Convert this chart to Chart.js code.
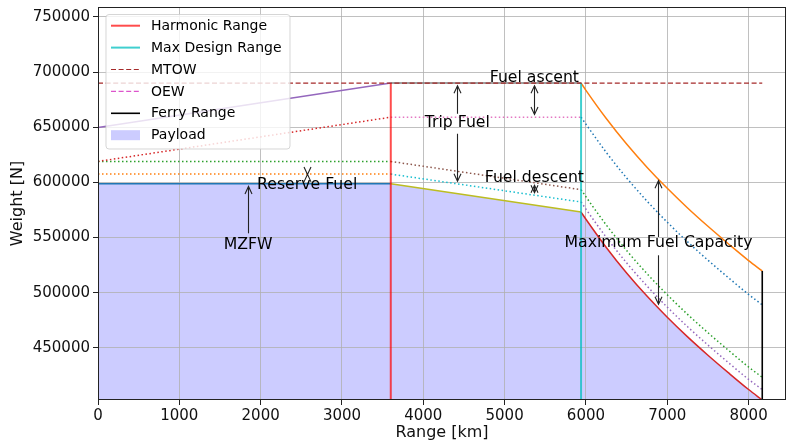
<!DOCTYPE html>
<html><head><meta charset="utf-8">
<script src="https://cdn.jsdelivr.net/npm/chart.js@4.4.0/dist/chart.umd.min.js"></script>
<style>html,body{margin:0;padding:0;background:#fff;}canvas{display:block;}</style>
</head><body>
<canvas id="c" width="787" height="443"></canvas>
<script>
// ---------- data ----------
const MTOW = 690000;
const OEW = 402700;
const Y_MAX = 759000;
const X_MAX = 8460;
const harmonicRange = 3600;
const designRange = 5940;
const ferryRange = 8168;
const ferryTOW = 519700;

const xTicks = [0, 1000, 2000, 3000, 4000, 5000, 6000, 7000, 8000];
const yTicks = [450000, 500000, 550000, 600000, 650000, 700000, 750000];

// segment A : 0 -> harmonic range
const segA_x    = [0, 3600];
const zfwA      = [598800, 598800];
const reserveA  = [607500, 607500];
const descentA  = [619000, 619000];
const tripA     = [619000, 659100];
const towA      = [649800, 690000];

// segment B : harmonic -> max design range
const segB_x    = [3600, 5940];
const descentB  = [619000, 593400];
const tripB     = [659100, 659100];
const towB      = [690000, 690000];
const zfwB      = [598800, 573100];
const reserveB  = [607500, 582200];

// segment C : max design -> ferry range
const segC_x    = [5940, 6000, 6250, 6500, 6750, 7000, 7250, 7500, 7750, 8000, 8168];
const tripC     = [659100, 652750, 627200, 604050, 583100, 563900, 546100, 529500, 513700, 498400, 489000];
const towC      = [690000, 683450, 657900, 634750, 613800, 594600, 576800, 560200, 544400, 529100, 519700];
const descentC  = [593500, 586950, 561400, 538250, 517300, 498100, 480300, 463700, 447900, 432600, 423300];
const zfwC      = [573100, 566550, 541000, 517850, 496900, 477700, 459900, 443300, 427500, 412200, 402700];
const reserveC  = [582300, 575750, 550200, 527050, 506100, 486900, 469100, 452500, 436700, 421400, 412200];

// annotations (data coordinates)
const notes = [
  {text: 'Fuel ascent', x: 5366, y: 695050},
  {text: 'Trip Fuel', x: 4418, y: 654300},
  {text: 'Fuel descent', x: 5366, y: 603600},
  {text: 'Reserve Fuel', x: 2572, y: 597300},
  {text: 'MZFW', x: 1846, y: 543200},
  {text: 'Maximum Fuel Capacity', x: 6892, y: 545000}
];
const arrows = [
  {x: 5362, from: 690000, to: 659100, both: true},
  {x: 4418, from: 662200, to: 690000},
  {x: 4418, from: 644100, to: 598650},
  {x: 5362, from: 599900, to: 588200, both: true},
  {x: 2569, from: 609700, to: 604700, both: true},
  {x: 1846, from: 553800, to: 598800},
  {x: 6892, from: 550500, to: 604000},
  {x: 6892, from: 533900, to: 487000}
];

const legendOrder = ['Harmonic Range', 'Max Design Range', 'MTOW', 'OEW', 'Ferry Range', 'Payload'];

// ---------- build ----------
const pts = (xs, ys) => xs.map((x, i) => ({x: x, y: ys[i]}));
const C = ['#1f77b4','#ff7f0e','#2ca02c','#d62728','#9467bd','#8c564b','#e377c2','#7f7f7f','#bcbd22','#17becf'];
const DOT = [1.5, 2.5];
const DASH = [5, 2.6];
function line(data, color, dash, width, label, smooth) {
  const d = {label: label || '', data: data, borderColor: color, backgroundColor: color,
    borderDash: dash || [], borderWidth: width || 1.5, pointRadius: 0, pointHoverRadius: 0,
    showLine: true, fill: false, tension: 0, borderCapStyle: 'butt'};
  if (smooth) d.cubicInterpolationMode = 'monotone';
  return d;
}
const payloadPts = pts(segA_x, zfwA).concat(pts(segB_x, zfwB).slice(1), pts(segC_x, zfwC).slice(1));

const datasets = [
  {label: 'Payload', data: payloadPts, showLine: true, fill: 'start', backgroundColor: 'rgba(0,0,255,0.2)',
   borderColor: 'rgba(0,0,255,0.2)', borderWidth: 0, pointRadius: 0, tension: 0},
  line(pts(segA_x, zfwA), C[0]),
  line(pts(segA_x, reserveA), C[1], DOT),
  line(pts(segA_x, descentA), C[2], DOT),
  line(pts(segA_x, tripA), C[3], DOT),
  line(pts(segA_x, towA), C[4]),
  line(pts(segB_x, descentB), C[5], DOT),
  line(pts(segB_x, tripB), C[6], DOT),
  line(pts(segB_x, towB), C[7]),
  line(pts(segB_x, zfwB), C[8]),
  line(pts(segB_x, reserveB), C[9], DOT),
  line(pts(segC_x, tripC), C[0], DOT, 1.5, '', true),
  line(pts(segC_x, towC), C[1], null, 1.5, '', true),
  line(pts(segC_x, descentC), C[2], DOT, 1.5, '', true),
  line(pts(segC_x, zfwC), C[3], null, 1.5, '', true),
  line(pts(segC_x, reserveC), C[4], DOT, 1.5, '', true),
  line(pts([harmonicRange, harmonicRange], [OEW, MTOW]), 'rgba(255,0,0,0.7)', null, 2, 'Harmonic Range'),
  line(pts([designRange, designRange], [OEW, MTOW]), 'rgba(0,191,191,0.75)', null, 2, 'Max Design Range'),
  line(pts([0, ferryRange], [MTOW, MTOW]), '#a52a2a', DASH, 1.2, 'MTOW'),
  line(pts([0, ferryRange], [OEW, OEW]), '#dd55cc', DASH, 1.2, 'OEW'),
  line(pts([ferryRange, ferryRange], [OEW, ferryTOW]), '#000000', null, 1.6, 'Ferry Range')
];
// first in list drawn at bottom
datasets.forEach((d, i) => { d.order = datasets.length - i; });

const FONT = '"DejaVu Sans", sans-serif';
Chart.defaults.font.family = FONT;
Chart.defaults.color = '#111';

const HL = 7.5, HW = 3.5, SHRINK = 2.7;
function head(ctx, x, y, dir) {
  ctx.beginPath();
  ctx.moveTo(x - HW, y - dir * HL);
  ctx.lineTo(x, y);
  ctx.lineTo(x + HW, y - dir * HL);
  ctx.stroke();
}

const annot = {
  id: 'annot',
  afterDatasetsDraw(chart) {
    const ctx = chart.ctx, xs = chart.scales.x, ys = chart.scales.y;
    ctx.save();
    ctx.strokeStyle = '#222'; ctx.lineWidth = 1.1; ctx.lineJoin = 'miter';
    arrows.forEach(a => {
      const px = Math.round(xs.getPixelForValue(a.x)) + 0.5;
      let p1 = ys.getPixelForValue(a.from), p2 = ys.getPixelForValue(a.to);
      const dir = Math.sign(p2 - p1);
      p2 -= dir * SHRINK;
      if (a.both) p1 += dir * SHRINK;
      ctx.beginPath(); ctx.moveTo(px, p1); ctx.lineTo(px, p2); ctx.stroke();
      head(ctx, px, p2, dir);
      if (a.both) head(ctx, px, p1, -dir);
    });
    ctx.fillStyle = '#000';
    ctx.font = '15.7px ' + FONT;
    ctx.textAlign = 'center'; ctx.textBaseline = 'middle';
    notes.forEach(n => {
      ctx.fillText(n.text, xs.getPixelForValue(n.x), ys.getPixelForValue(n.y));
    });
    ctx.restore();
  },
  afterDraw(chart) {
    const ctx = chart.ctx, ca = chart.chartArea;
    // legend
    ctx.save();
    const bx = 106, by = 14.5, bw = 184, bh = 134.5, r = 3;
    ctx.beginPath();
    ctx.moveTo(bx + r, by); ctx.lineTo(bx + bw - r, by); ctx.quadraticCurveTo(bx + bw, by, bx + bw, by + r);
    ctx.lineTo(bx + bw, by + bh - r); ctx.quadraticCurveTo(bx + bw, by + bh, bx + bw - r, by + bh);
    ctx.lineTo(bx + r, by + bh); ctx.quadraticCurveTo(bx, by + bh, bx, by + bh - r);
    ctx.lineTo(bx, by + r); ctx.quadraticCurveTo(bx, by, bx + r, by);
    ctx.closePath();
    ctx.fillStyle = 'rgba(255,255,255,0.8)'; ctx.fill();
    ctx.strokeStyle = 'rgba(204,204,204,0.8)'; ctx.lineWidth = 1; ctx.stroke();
    ctx.font = '14px ' + FONT; ctx.textAlign = 'left'; ctx.textBaseline = 'middle';
    legendOrder.forEach((lab, i) => {
      const d = chart.data.datasets.find(ds => ds.label === lab);
      const cy = 25.7 + i * 21.9;
      if (d.fill) {
        ctx.fillStyle = d.backgroundColor;
        ctx.fillRect(111, cy - 5, 29, 10);
      } else {
        ctx.strokeStyle = d.borderColor; ctx.lineWidth = d.borderWidth;
        ctx.setLineDash(d.borderDash || []);
        ctx.beginPath(); ctx.moveTo(111, cy); ctx.lineTo(140, cy); ctx.stroke();
        ctx.setLineDash([]);
      }
      ctx.fillStyle = '#000';
      ctx.fillText(lab, 151, cy + 0.5);
    });
    // frame
    ctx.strokeStyle = '#222'; ctx.lineWidth = 1;
    ctx.strokeRect(Math.round(ca.left) + 0.5, Math.round(ca.top) + 0.5, Math.round(ca.width) - 1, Math.round(ca.height) - 1);
    ctx.restore();
  }
};

function noPad(s) { s.paddingTop = 0; s.paddingBottom = 0; s.paddingLeft = 0; s.paddingRight = 0; }

new Chart(document.getElementById('c'), {
  type: 'scatter',
  data: {datasets: datasets},
  options: {
    responsive: false, animation: false, devicePixelRatio: 1,
    layout: {padding: {left: 0, right: 1, top: 7, bottom: 0}},
    plugins: {legend: {display: false}, tooltip: {enabled: false}, filler: {drawTime: 'beforeDraw'}},
    scales: {
      x: {
        type: 'linear', min: 0, max: X_MAX,
        afterBuildTicks: s => { s.ticks = xTicks.map(v => ({value: v})); },
        afterFit: s => { s.height = 43; noPad(s); },
        ticks: {callback: v => String(v), font: {size: 15}, padding: 2, maxRotation: 0, autoSkip: false, color: '#111'},
        grid: {color: '#b0b0b0', lineWidth: 0.8, tickColor: '#222', tickLength: 5, tickWidth: 1},
        border: {display: false},
        title: {display: true, text: 'Range [km]', font: {size: 16}, padding: {top: 0, bottom: 1}, color: '#111'}
      },
      y: {
        type: 'linear', min: OEW, max: Y_MAX,
        afterBuildTicks: s => { s.ticks = yTicks.map(v => ({value: v})); },
        afterFit: s => { s.width = 98; noPad(s); },
        ticks: {callback: v => String(v), font: {size: 15}, padding: 3, autoSkip: false, color: '#111'},
        grid: {color: '#b0b0b0', lineWidth: 0.8, tickColor: '#222', tickLength: 5, tickWidth: 1},
        border: {display: false},
        title: {display: true, text: 'Weight [N]', font: {size: 16}, padding: {top: 8, bottom: 0}, color: '#111'}
      }
    }
  },
  plugins: [annot]
});
</script>
</body></html>
